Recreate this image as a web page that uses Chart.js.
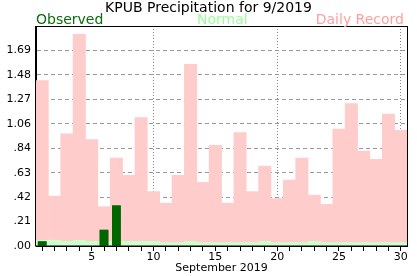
<!DOCTYPE html>
<html>
<head>
<meta charset="utf-8">
<script src="https://cdn.jsdelivr.net/npm/chart.js@4"></script>
<style>
  html, body { margin: 0; padding: 0; background: #fff; }
  #wrap { position: relative; width: 417px; height: 276px; font-family: "DejaVu Sans", Verdana, sans-serif; }
  #c { position: absolute; left: 0; top: 0; }
  .txt { position: absolute; white-space: nowrap; font-size: 14px; line-height: 16px; }
</style>
</head>
<body>
<div id="wrap">
  <canvas id="c" width="417" height="276"></canvas>
  <div class="txt" style="left:0;width:417px;text-align:center;top:-1px;color:#000">KPUB Precipitation for 9/2019</div>
  <div class="txt" style="left:36px;top:11px;color:#0a6e0a">Observed</div>
  <div class="txt" style="left:197px;top:11px;color:#99ff99">Normal</div>
  <div class="txt" style="right:13px;top:11px;color:#ffa0a0">Daily Record</div>
</div>
<script>
// KPUB daily precipitation, September 2019 (inches)
const days = ["1","2","3","4","5","6","7","8","9","10","11","12","13","14","15",
              "16","17","18","19","20","21","22","23","24","25","26","27","28","29","30"];
const observed = [0.04, 0, 0, 0, 0, 0.14, 0.35, 0, 0, 0, 0, 0, 0, 0, 0,
                  0, 0, 0, 0, 0, 0, 0, 0, 0, 0, 0, 0, 0, 0, 0];
const normal = [0.05, 0.05, 0.04, 0.05, 0.04, 0.04, 0.04, 0.04, 0.04, 0.04, 0.03, 0.03, 0.04, 0.03, 0.03,
                0.03, 0.03, 0.03, 0.04, 0.03, 0.03, 0.03, 0.04, 0.03, 0.03, 0.03, 0.03, 0.03, 0.03, 0.03];
const record = [1.43, 0.43, 0.97, 1.83, 0.92, 0.34, 0.76, 0.61, 1.11, 0.47, 0.37, 0.61, 1.57, 0.55, 0.87,
                0.37, 0.98, 0.47, 0.69, 0.41, 0.57, 0.76, 0.44, 0.36, 1.01, 1.23, 0.82, 0.75, 1.14, 1.00];
const yTickValues = [0, 0.21125, 0.4225, 0.63375, 0.845, 1.05625, 1.2675, 1.47875, 1.69, 1.90125];
const yTickLabels = [".00", ".21", ".42", ".63", ".84", "1.06", "1.27", "1.48", "1.69", ""];
const xGridDays = ["10", "20", "30"];

const FONT = "'DejaVu Sans', Verdana, sans-serif";

// redraw observed bars over the grid, then frame the plot
const framePlugin = {
  id: "frame",
  afterDraw(chart) {
    chart.getDatasetMeta(0).controller.draw();
    const { ctx, chartArea: a } = chart;
    ctx.save();
    ctx.strokeStyle = "#000";
    ctx.lineWidth = 1;
    ctx.strokeRect(Math.round(a.left) - 0.5, Math.round(a.top) + 0.5,
                   Math.round(a.right - a.left) + 1, Math.round(a.bottom - a.top) - 0.5);
    ctx.restore();
  }
};

new Chart(document.getElementById("c"), {
  type: "bar",
  data: {
    labels: days,
    datasets: [
      { label: "Observed", data: observed, backgroundColor: "#006600", barPercentage: 0.7,
        categoryPercentage: 1, grouped: false, order: 1, inflateAmount: 0 },
      { label: "Normal", data: normal, backgroundColor: "#ccffcc", barPercentage: 1,
        categoryPercentage: 1, grouped: false, order: 2 },
      { label: "Daily Record", data: record, backgroundColor: "#ffcccc", barPercentage: 1,
        categoryPercentage: 1, grouped: false, order: 3 },
    ],
  },
  options: {
    responsive: false,
    devicePixelRatio: 1,
    animation: false,
    layout: { padding: { top: 26, right: 10, left: 0, bottom: 0 } },
    plugins: { legend: { display: false }, tooltip: { enabled: false }, title: { display: false } },
    scales: {
      x: {
        z: 1,
        offset: true,
        afterFit: s => { s.height = 30; },
        grid: {
          offset: false,
          color: c => (c.tick && xGridDays.includes(days[c.index])) ? "#888" : "rgba(0,0,0,0)",
          tickColor: "#000", tickLength: 5, drawTicks: true,
        },
        border: { display: true, color: "#000", dash: [1, 2] },
        ticks: {
          autoSkip: false, maxRotation: 0, padding: 0, color: "#000",
          font: { family: FONT, size: 11 },
          callback: (v, i) => (Number(days[i]) % 5 === 0 ? days[i] : ""),
        },
        title: { display: true, text: "September 2019", color: "#000",
                 font: { family: FONT, size: 11 }, padding: { top: 0, bottom: 1 } },
      },
      y: {
        z: 1,
        min: 0,
        max: 1.90125,
        afterFit: s => { s.width = 36; },
        afterBuildTicks: s => { s.ticks = yTickValues.map(v => ({ value: v })); },
        grid: { color: "#999", drawTicks: false },
        border: { display: true, color: "#000", dash: [4, 3] },
        ticks: {
          padding: 5, color: "#000",
          font: { family: FONT, size: 11 },
          callback: (v, i) => yTickLabels[i],
        },
      },
    },
  },
  plugins: [framePlugin],
});
</script>
</body>
</html>
